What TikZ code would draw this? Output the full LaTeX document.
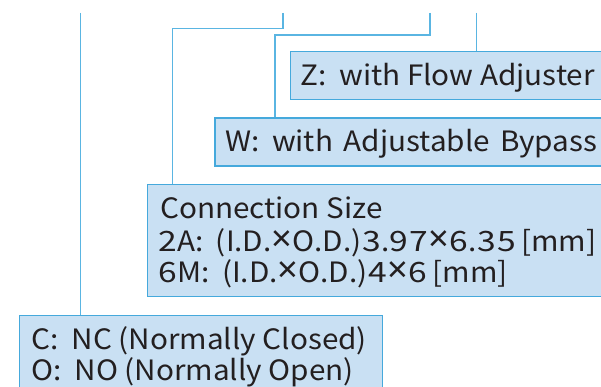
\documentclass[tikz,border=0pt]{standalone}
\usepackage{graphicx}
\usepackage{fontspec}
\setmainfont{Noto Sans CJK JP}[FakeStretch=1.06]
\newfontfamily\xfont{Noto Sans}
\newfontfamily\digfont{Noto Sans CJK JP}[FakeStretch=1.2]
\newcommand{\tms}{\makebox[21pt]{\xfont\scalebox{1.3}{×}}}
\newcommand{\dd}[1]{\makebox[19.5pt]{\digfont #1}}
\newcommand{\cln}{:\hspace{12.5pt}}
\definecolor{boxfill}{HTML}{C9E0F3}
\definecolor{boxline}{HTML}{45A9DC}
\definecolor{conline}{HTML}{5AB5E2}
\definecolor{txt}{HTML}{231F20}
\begin{document}
\begin{tikzpicture}[x=1pt,y=-1pt,
  lblbox/.style={draw=boxline, line width=1.4pt, fill=boxfill, anchor=north west,
    inner sep=0pt},
  lbltext/.style={anchor=base west, inner sep=0pt, text=txt, text depth=0pt,
    font=\fontsize{28}{31.5}\selectfont},
  con/.style={draw=conline, line width=1.3pt}]
\clip (0,0) rectangle (601,387);
\fill[white] (0,0) rectangle (601,387);
% boxes
\node[lblbox, minimum width=330pt, minimum height=48pt] (zbox) at (290,51) {};
\node[lblbox, minimum width=400pt, minimum height=48pt] (wbox) at (214.3,117.5) {};
\node[lblbox, minimum width=470pt, minimum height=112pt] (cbox) at (146.7,184) {};
\node[lblbox, minimum width=363pt, minimum height=90pt] (obox) at (19,315) {};
% texts
\node[lbltext] (zt) at (300.5,85.5) {Z\cln with Flow Adjuster};
\node[lbltext] (wt) at (225,151.5) {W\cln with\hspace{10.5pt}Adjustable\hspace{10.5pt}Bypass};
\node[lbltext] (ct1) at (160,218.7) {Connection Size};
\node[lbltext] (ct2) at (157.5,251) {\dd{2}A\cln(I.D.\tms O.D.)\dd{3}.\dd{9}\dd{7}\tms\dd{6}.\dd{3}\dd{5}\hspace{5pt}[mm]};
\node[lbltext] (ct3) at (157.5,282.5) {\dd{6}M\cln(I.D.\tms O.D.)\dd{4}\tms\dd{6}\hspace{5pt}[mm]};
\node[lbltext] (ot1) at (31.7,349) {C\cln NC (Normally Closed)};
\node[lbltext] (ot2) at (31.7,380) {O\cln NO (Normally Open)};
% connector tops and bends
\coordinate (ta) at (80.8,13);
\coordinate (tb) at (283,13);
\coordinate (bb) at (172.7,28.3);
\coordinate (tc) at (430,13);
\coordinate (bc) at (275,35);
\coordinate (td) at (476.3,13);
\draw[con] (ta) -- (ta |- obox.north);
\draw[con] (tb) |- (bb) -- (bb |- cbox.north);
\draw[con] (tc) |- (bc) -- (bc |- wbox.north);
\draw[con] (td) -- (td |- zbox.north);
\end{tikzpicture}
\end{document}
